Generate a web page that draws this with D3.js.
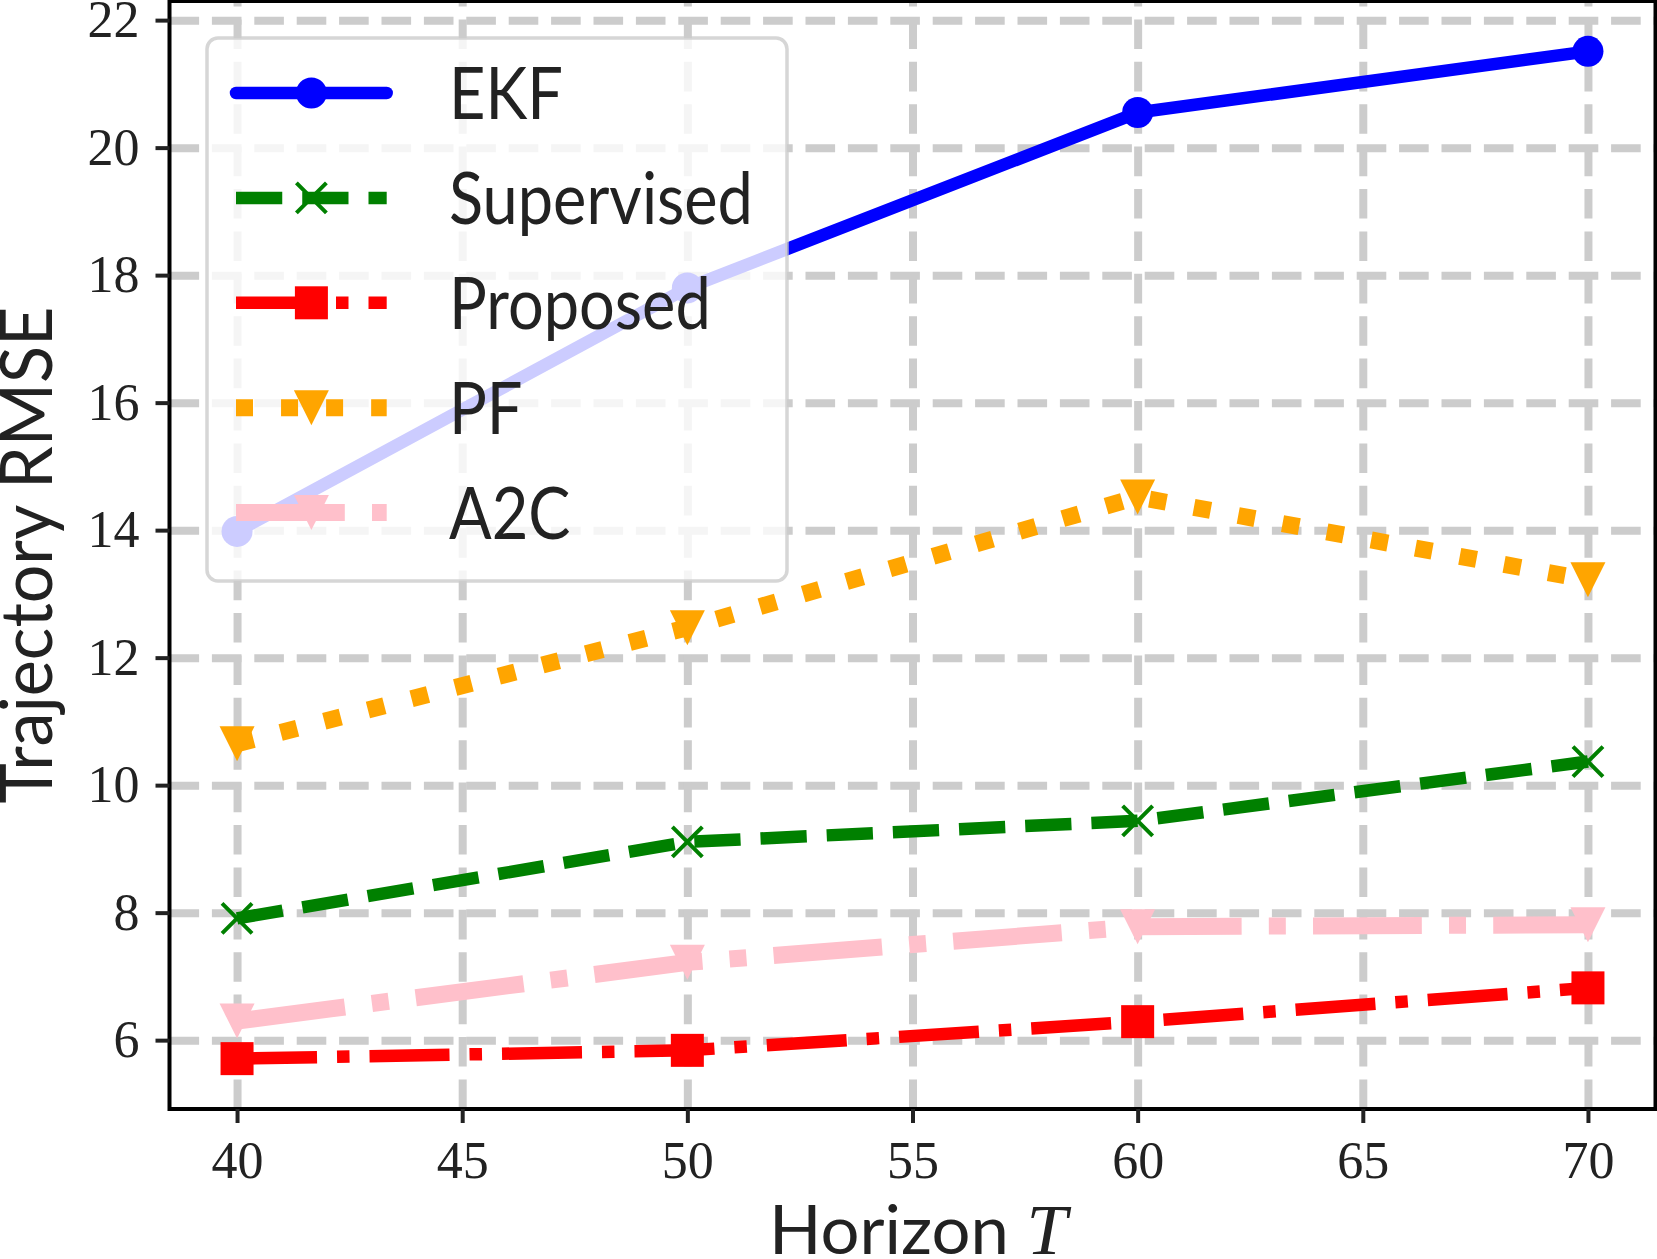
<!DOCTYPE html>
<html><head><meta charset="utf-8">
<script src="https://cdn.jsdelivr.net/npm/d3@7"></script>
<style>body{margin:0;background:#fff}</style></head>
<body>
<script>
// ---- data ----
const horizons = [40, 50, 60, 70];
const ekfValues = [13.98, 17.8, 20.55, 21.51];
const supervisedValues = [7.91, 9.11, 9.44, 10.37];
const proposedValues = [5.71, 5.84, 6.29, 6.82];
const pfValues = [10.65, 12.47, 14.52, 13.22];
const a2cValues = [6.3, 7.22, 7.78, 7.81];
const seriesNames = ["EKF", "Supervised", "Proposed", "PF", "A2C"];
const xTickValues = [40, 45, 50, 55, 60, 65, 70];
const yTickValues = [6, 8, 10, 12, 14, 16, 18, 20, 22];
const xLabelText = "Horizon ";
const xLabelMath = "T";
const yLabelText = "Trajectory RMSE";

// ---- layout ----
const W = 1657, H = 1259;
const L = 169.5, R = 1655.5, T = 1, B = 1109;
const svg = d3.select("body").append("svg").attr("width", W).attr("height", H);

const allVals = [].concat(ekfValues, supervisedValues, proposedValues, pfValues, a2cValues);
const yLo = d3.min(allVals), yHi = d3.max(allVals), yPad = (yHi - yLo) * 0.05;
const xLo = d3.min(horizons), xHi = d3.max(horizons), xPad = (xHi - xLo) * 0.05;
const x = d3.scaleLinear().domain([xLo - xPad, xHi + xPad]).range([L, R]);
const y = d3.scaleLinear().domain([yLo - yPad, yHi + yPad]).range([B, T]);

const gridColor = "#cccccc";
const gridDash = "29.6,12.8";

// gridlines
const gy = svg.append("g").attr("transform", `translate(${L},0)`)
  .call(d3.axisLeft(y).tickValues(yTickValues).tickSize(-(R - L)).tickFormat(""));
gy.select(".domain").remove();
gy.selectAll("line").attr("stroke", gridColor).attr("stroke-width", 8).attr("stroke-dasharray", gridDash);
const gx = svg.append("g").attr("transform", `translate(0,${B})`)
  .call(d3.axisBottom(x).tickValues(xTickValues).tickSize(-(B - T)).tickFormat(""));
gx.select(".domain").remove();
gx.selectAll("line").attr("stroke", gridColor).attr("stroke-width", 8).attr("stroke-dasharray", gridDash);

// series styles
const styles = [
  {vals: ekfValues, color: "#0000ff", lw: 12.5, dash: null, cap: "round", marker: "circle", ms: 31},
  {vals: supervisedValues, color: "#008000", lw: 12.5, dash: [3.7, 1.6], cap: "butt", marker: "x", ms: 30},
  {vals: proposedValues, color: "#ff0000", lw: 12.5, dash: [6.4, 1.6, 1, 1.6], cap: "butt", marker: "square", ms: 33},
  {vals: pfValues, color: "#ffa500", lw: 17, dash: [1, 1.65], cap: "butt", marker: "tri", ms: 35},
  {vals: a2cValues, color: "#ffc0cb", lw: 17, dash: [6.4, 1.6, 1, 1.6], cap: "butt", marker: "tri", ms: 35}
];

function drawMarker(g, type, cx, cy, ms, color) {
  if (type === "circle") {
    g.append("circle").attr("cx", cx).attr("cy", cy).attr("r", ms / 2).attr("fill", color);
  } else if (type === "square") {
    g.append("rect").attr("x", cx - ms / 2).attr("y", cy - ms / 2).attr("width", ms).attr("height", ms).attr("fill", color);
  } else if (type === "tri") {
    const h = ms / 2;
    g.append("path").attr("d", `M${cx - h},${cy - h}L${cx + h},${cy - h}L${cx},${cy + h}Z`).attr("fill", color);
  } else if (type === "x") {
    const h = ms / 2;
    g.append("path").attr("d", `M${cx - h},${cy - h}L${cx + h},${cy + h}M${cx - h},${cy + h}L${cx + h},${cy - h}`)
      .attr("stroke", color).attr("stroke-width", 4).attr("fill", "none");
  }
}

const lineGen = d3.line().x(d => x(d[0])).y(d => y(d[1]));
styles.forEach(s => {
  const pts = horizons.map((h, i) => [h, s.vals[i]]);
  const p = svg.append("path").attr("d", lineGen(pts)).attr("fill", "none")
    .attr("stroke", s.color).attr("stroke-width", s.lw)
    .attr("stroke-linejoin", "round").attr("stroke-linecap", s.cap);
  if (s.dash) p.attr("stroke-dasharray", s.dash.map(v => v * s.lw).join(","));
  const mg = svg.append("g");
  pts.forEach(d => drawMarker(mg, s.marker, x(d[0]), y(d[1]), s.ms, s.color));
});

// spines
svg.append("rect").attr("x", L).attr("y", T).attr("width", R - L).attr("height", B - T)
  .attr("fill", "none").attr("stroke", "#000").attr("stroke-width", 4);

// axes ticks + labels
const tickFont = "'Liberation Serif', 'DejaVu Serif', serif";
const ay = svg.append("g").attr("transform", `translate(${L},0)`)
  .call(d3.axisLeft(y).tickValues(yTickValues).tickSize(14).tickPadding(16));
ay.select(".domain").remove();
ay.selectAll("line").attr("stroke", "#222").attr("stroke-width", 4);
ay.selectAll("text").attr("font-family", tickFont).attr("font-size", 52).attr("fill", "#222");
const ax = svg.append("g").attr("transform", `translate(0,${B})`)
  .call(d3.axisBottom(x).tickValues(xTickValues).tickSize(14).tickPadding(18));
ax.select(".domain").remove();
ax.selectAll("line").attr("stroke", "#222").attr("stroke-width", 4);
ax.selectAll("text").attr("font-family", tickFont).attr("font-size", 52).attr("fill", "#222");

const sansFont = "Lato, 'Open Sans', sans-serif";

// x label
const xl = svg.append("text").attr("x", 0).attr("y", 0).attr("fill", "#222").attr("font-size", 68);
xl.append("tspan").attr("font-family", sansFont).text(xLabelText);
xl.append("tspan").attr("font-family", tickFont).attr("font-style", "italic").attr("font-size", 72).text(xLabelMath);
{
  const w = xl.node().getComputedTextLength();
  const k = 298 / w;
  xl.attr("transform", `translate(${918 - 298 / 2},1254) scale(${k},1)`);
}

// y label
const yl = svg.append("text").attr("fill", "#222").attr("font-size", 72).attr("font-family", sansFont)
  .attr("text-anchor", "middle").text(yLabelText);
{
  const w = yl.node().getComputedTextLength();
  const k = 497 / w;
  yl.attr("transform", `translate(52,555) rotate(-90) scale(${k},1)`);
}

// legend
const lg = svg.append("g");
lg.append("rect").attr("x", 207).attr("y", 38).attr("width", 580).attr("height", 543).attr("rx", 11)
  .attr("fill", "#fff").attr("fill-opacity", 0.8)
  .attr("stroke", "rgba(204,204,204,0.8)").attr("stroke-width", 3.5);
const rowY = d3.scaleLinear().domain([0, 4]).range([93, 512.6]);
const hx0 = 236, hx1 = 386.7, hxm = 311.4;
const labels = [];
styles.forEach((s, i) => {
  const cy = rowY(i);
  const p = lg.append("path").attr("d", `M${hx0},${cy}L${hx1},${cy}`).attr("fill", "none")
    .attr("stroke", s.color).attr("stroke-width", s.lw).attr("stroke-linecap", s.cap);
  if (s.dash) p.attr("stroke-dasharray", s.dash.map(v => v * s.lw).join(","));
  drawMarker(lg, s.marker, hxm, cy, s.ms, s.color);
  const t = lg.append("text").attr("font-family", sansFont).attr("font-size", 71).attr("fill", "#222")
    .text(seriesNames[i]);
  labels.push({t, cy});
});
{
  const ref = labels[1].t.node().getComputedTextLength();
  const k = 304 / ref;
  labels.forEach(({t, cy}) => t.attr("transform", `translate(449,${cy + 26}) scale(${k},1)`));
}
</script>
</body></html>
